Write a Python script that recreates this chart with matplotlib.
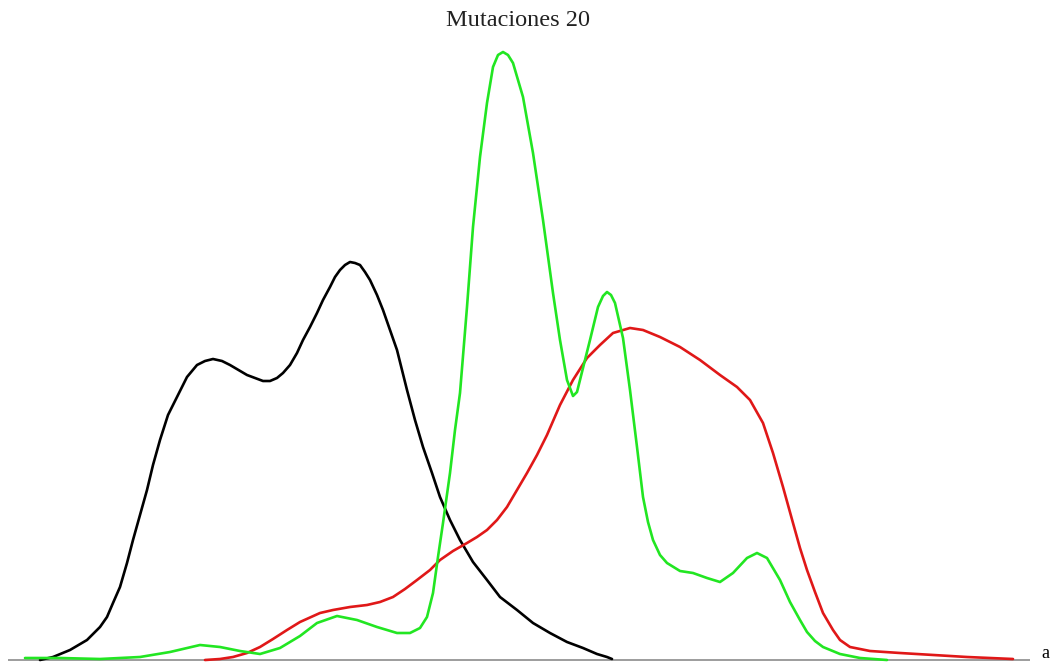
import matplotlib.pyplot as plt

# curve points (x position, density height)
black_x = [40, 53, 70, 87, 100, 107, 113, 120, 127, 133, 140, 147, 153, 160, 168, 177, 187, 197,
           205, 213, 222, 230, 247, 263, 270, 277, 283, 290, 297, 303, 310, 317, 323, 330, 335, 340,
           345, 350, 355, 360, 365, 370, 377, 383, 390, 397, 407, 415, 423, 432, 440, 450, 460, 473,
           487, 500, 517, 533, 550, 567, 583, 597, 607, 612]
black_y = [0, 3, 10, 20, 33, 43, 57, 73, 97, 120, 145, 170, 195, 220, 245, 263, 283, 295,
           299, 301, 299, 295, 285, 279, 279, 282, 287, 295, 307, 320, 333, 347, 360, 373, 383, 390,
           395, 398, 397, 395, 388, 380, 365, 350, 330, 310, 270, 240, 213, 187, 163, 140, 120, 98,
           80, 63, 50, 37, 27, 18, 12, 6, 3, 1]

green_x = [25, 60, 100, 140, 170, 200, 220, 240, 260, 280, 300, 317, 337, 357, 377, 397, 410, 420,
           427, 433, 438, 443, 450, 455, 460, 467, 473, 480, 487, 493, 498, 503, 508, 513, 523, 533,
           543, 553, 560, 567, 573, 577, 580, 590, 598, 603, 607, 611, 615, 623, 630, 637, 643, 648,
           653, 660, 667, 680, 693, 707, 720, 733, 747, 757, 767, 780, 790, 800, 807, 815, 823, 840,
           860, 887]
green_y = [2, 2, 1, 3, 8, 15, 13, 9, 6, 12, 24, 37, 44, 40, 33, 27, 27, 32,
           43, 67, 103, 137, 187, 230, 267, 353, 433, 503, 557, 593, 605, 608, 605, 597, 563, 507,
           440, 367, 320, 280, 264, 268, 280, 320, 353, 364, 368, 365, 357, 322, 270, 213, 163, 138,
           120, 105, 97, 89, 87, 82, 78, 87, 102, 107, 102, 80, 58, 40, 28, 19, 13, 6,
           2, 0]

red_x = [205, 220, 233, 247, 260, 273, 287, 300, 320, 333, 350, 367, 380, 393, 405, 417, 430, 440,
         453, 467, 477, 487, 497, 507, 517, 527, 537, 547, 560, 573, 587, 600, 613, 630, 643, 660,
         680, 700, 720, 737, 750, 763, 773, 783, 793, 800, 807, 815, 823, 833, 840, 850, 870, 900,
         967, 1013]
red_y = [0, 1, 3, 7, 13, 21, 30, 38, 47, 50, 53, 55, 58, 63, 71, 80, 90, 100,
         109, 117, 123, 130, 140, 153, 170, 187, 205, 225, 255, 280, 302, 315, 327, 332, 330, 323,
         313, 300, 285, 273, 260, 237, 207, 173, 137, 112, 90, 68, 47, 30, 20, 13, 9, 7,
         3, 1]

fig = plt.figure(figsize=(10.52, 6.64), dpi=100)
ax = fig.add_axes([0, 0, 1, 1])
ax.set_xlim(0, 1052)
ax.set_ylim(-4, 660)
ax.axis('off')

ax.hlines(0, 8, 1030, color='#8c8c8c', lw=1.2)
ax.plot(black_x, black_y, color='black', lw=1.9, solid_joinstyle='round', solid_capstyle='round')
ax.plot(red_x, red_y, color='#e01818', lw=1.9, solid_joinstyle='round', solid_capstyle='round')
ax.plot(green_x, green_y, color='#22e622', lw=1.9, solid_joinstyle='round', solid_capstyle='round')

ax.text(1041, 6, 'a', family='Liberation Serif', fontsize=13, va='center', ha='left')
ax.text(518, 640, 'Mutaciones 20', family='Liberation Serif', fontsize=17.5,
        ha='center', va='center', color='#222222')

fig.savefig('out.png', dpi=100)
